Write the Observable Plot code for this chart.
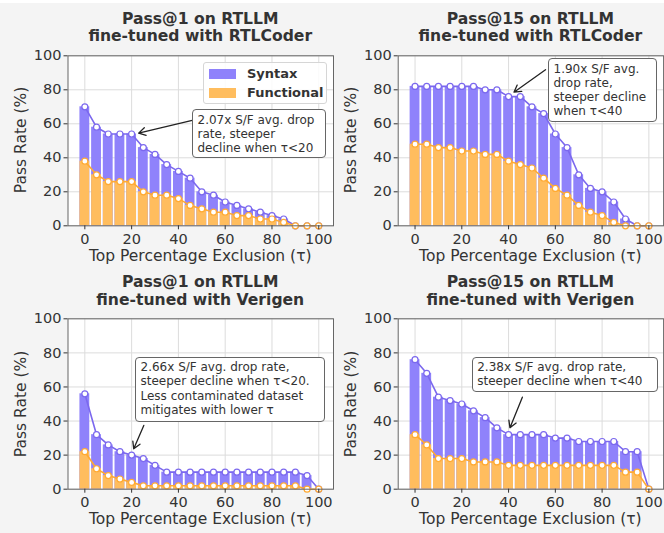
<!DOCTYPE html>
<html><head><meta charset="utf-8">
<script src="https://cdn.jsdelivr.net/npm/d3@7"></script>
<script src="https://cdn.jsdelivr.net/npm/@observablehq/plot@0.6"></script>
<style>
body{margin:0;background:#fff;font-family:"DejaVu Sans",sans-serif;}
#fig{position:relative;width:664px;height:533px;overflow:hidden;}
#bg{position:absolute;left:0;top:3px;width:664px;height:530px;background:#f4f4f4;}
.panel{position:absolute;}
.title{position:absolute;font-weight:bold;font-size:15.6px;text-align:center;color:#333;line-height:17.5px;white-space:nowrap;}
.axlab{position:absolute;font-size:15.5px;line-height:18px;height:18px;text-align:center;color:#333;white-space:nowrap;}
.note{position:absolute;box-sizing:border-box;border:1.2px solid #666;border-radius:4px;background:#fff;font-size:12px;line-height:14.2px;padding:2.5px 0 0 4.5px;color:#333;white-space:nowrap;}
.legend{position:absolute;box-sizing:border-box;border:1px solid #d6d6d6;border-radius:3px;background:rgba(255,255,255,0.85);font-size:13px;font-weight:bold;color:#333;}
.legend .row{position:absolute;left:5px;height:12px;}
.legend .sw{position:absolute;left:0;top:1px;width:27px;height:10px;}
.legend .lab{position:absolute;left:38px;top:-2px;line-height:15px;}
</style>
</head><body>
<div id="fig"><div id="bg"></div></div>
<script>
// ---- data ----
const tau = [0,5,10,15,20,25,30,35,40,45,50,55,60,65,70,75,80,85,90,95,100];
const xTicks = [0,20,40,60,80,100];
const yTicks = [0,20,40,60,80,100];
const seriesNames = ["Syntax","Functional"];

const syntaxP1Rtl = [70,58,54,54,54,46,42,36,32,28,20,18,14,12,10,8,6,4,0,0,0];
const funcP1Rtl   = [38,30,26,26,26,20,18,18,16,12,10,8,8,6,6,4,4,2,0,0,0];
const syntaxP15Rtl = [82,82,82,82,82,82,80,80,76,76,70,66,54,46,30,22,20,14,4,0,0];
const funcP15Rtl   = [48,48,46,46,44,44,42,42,38,36,34,28,22,18,12,8,6,2,0,0,0];
const syntaxP1Ver = [56,32,26,22,20,18,14,10,10,10,10,10,10,10,10,10,10,10,10,8,0];
const funcP1Ver   = [22,12,8,6,4,2,2,2,2,2,2,2,2,2,2,2,2,2,2,0,0];
const syntaxP15Ver = [76,68,54,52,50,46,42,36,32,32,32,32,30,30,28,28,28,28,22,22,0];
const funcP15Ver   = [32,26,18,18,18,16,16,16,14,14,14,14,14,14,14,14,14,14,10,10,0];

const titles = [
  ["Pass@1 on RTLLM", "fine-tuned with RTLCoder"],
  ["Pass@15 on RTLLM", "fine-tuned with RTLCoder"],
  ["Pass@1 on RTLLM", "fine-tuned with Verigen"],
  ["Pass@15 on RTLLM", "fine-tuned with Verigen"]
];
const notes = [
  ["2.07x S/F avg. drop", "rate, steeper", "decline when τ<20"],
  ["1.90x S/F avg.", "drop rate,", "steeper decline", "when τ<40"],
  ["2.66x S/F avg. drop rate,", "steeper decline when τ<20.", "Less contaminated dataset", "mitigates with lower τ"],
  ["2.38x S/F avg. drop rate,", "steeper decline when τ<40"]
];
// arrow [tailX, tailY, headX, headY] in data units
const arrows = [
  [45.9, 62, 23, 54.5],
  [55.8, 91.8, 42.3, 78.6],
  [25.2, 37.4, 20.9, 23.7],
  [45.9, 54, 40.6, 36]
];
const xLabel = "Top Percentage Exclusion (τ)";
const yLabel = "Pass Rate (%)";

// ---- style/layout ----
const cSynBar = "#8f82fb", cSynLine = "#7b68ee";
const cFunBar = "#ffbd5e", cFunLine = "#ffaa33";
const layout = [
  {left:0,   top:0,   w:340, h:268, ml:67.5, mr:7,   mt:55.3, mb:42.7, note:{x:192,y:109,w:134,h:49}, titleTop:10.8},
  {left:330, top:0,   w:334, h:268, ml:67.7, mr:0.9, mt:55.3, mb:42.7, note:{x:548,y:58.3,w:109,h:63.4}, titleTop:10.8},
  {left:0,   top:268, w:340, h:265, ml:67.5, mr:7,   mt:50.3, mb:44.3, note:{x:135,y:356.7,w:190,h:65}, titleTop:274},
  {left:330, top:268, w:334, h:265, ml:67.7, mr:0.9, mt:50.3, mb:44.3, note:{x:471.7,y:356.7,w:186.6,h:35}, titleTop:274}
];
const panels = [
  [syntaxP1Rtl, funcP1Rtl],
  [syntaxP15Rtl, funcP15Rtl],
  [syntaxP1Ver, funcP1Ver],
  [syntaxP15Ver, funcP15Ver]
];

const fig = document.getElementById("fig");
function addDiv(cls, html, styles) {
  const d = document.createElement("div");
  d.className = cls;
  d.innerHTML = html;
  Object.assign(d.style, styles);
  fig.appendChild(d);
  return d;
}
panels.forEach(([syn, fun], i) => {
  const L = layout[i];
  const data = tau.map((t, k) => ({tau: t, syntax: syn[k], functional: fun[k]}));
  const [ax, ay, hx, hy] = arrows[i];
  const chart = Plot.plot({
    width: L.w, height: L.h,
    marginLeft: L.ml, marginRight: L.mr, marginTop: L.mt, marginBottom: L.mb,
    style: {background: "transparent", fontFamily: "DejaVu Sans, sans-serif", color: "#333", overflow: "visible"},
    x: {domain: [-7.2, 106.3]},
    y: {domain: [0, 100]},
    marks: [
      Plot.frame({fill: "#fff", stroke: "none"}),
      Plot.gridX(xTicks, {stroke: "#dcdcdc", strokeOpacity: 1}),
      Plot.gridY(yTicks, {stroke: "#dcdcdc", strokeOpacity: 1}),
      Plot.rect(data, {x1: d => d.tau - 2.1, x2: d => d.tau + 2.1, y1: 0, y2: "syntax", fill: cSynBar}),
      Plot.rect(data, {x1: d => d.tau - 2.1, x2: d => d.tau + 2.1, y1: 0, y2: "functional", fill: cFunBar}),
      Plot.line(data, {x: "tau", y: "syntax", stroke: cSynLine, strokeWidth: 1.6}),
      Plot.dot(data, {x: "tau", y: "syntax", r: 3, fill: "#fff", stroke: cSynLine, strokeWidth: 1.2}),
      Plot.line(data, {x: "tau", y: "functional", stroke: cFunLine, strokeWidth: 1.6}),
      Plot.dot(data, {x: "tau", y: "functional", r: 3, fill: "#fff", stroke: cFunLine, strokeWidth: 1.2}),
      Plot.arrow([0], {x1: () => ax, y1: () => ay, x2: () => hx, y2: () => hy, stroke: "#222", strokeWidth: 1.3, headLength: 9, insetStart: 0, insetEnd: 0}),
      Plot.frame({stroke: "#666", strokeWidth: 1}),
      Plot.axisX({ticks: xTicks, tickSize: 4, tickPadding: 3.5, fontSize: 14.5, label: null}),
      Plot.axisY({ticks: yTicks, tickSize: 4, tickPadding: 2.5, fontSize: 14.5, label: null})
    ]
  });
  chart.classList.add("panel");
  chart.style.left = L.left + "px";
  chart.style.top = L.top + "px";
  fig.appendChild(chart);

  const plotLeft = L.left + L.ml, plotW = L.w - L.ml - L.mr;
  const plotBottom = L.top + L.h - L.mb, plotTop = L.top + L.mt;
  addDiv("title", titles[i].join("<br>"), {left: plotLeft + "px", width: plotW + "px", top: L.titleTop + "px"});
  addDiv("note", notes[i].join("<br>"), {left: L.note.x + "px", top: L.note.y + "px", width: L.note.w + "px", height: L.note.h + "px"});
  // x label
  addDiv("axlab", xLabel, {left: plotLeft + "px", width: plotW + "px", top: (plotBottom + 21.3) + "px"});
  // y label (rotated)
  const cy = (plotTop + plotBottom) / 2, cx = L.left + 21;
  addDiv("axlab", yLabel, {left: (cx - 100) + "px", width: "200px", top: (cy - 9) + "px", transform: "rotate(-90deg)", transformOrigin: "50% 50%"});
});

// legend (first panel)
const lg = addDiv("legend", "", {left: "203px", top: "62px", width: "124px", height: "42px"});
[[seriesNames[0], cSynBar, 5], [seriesNames[1], cFunBar, 24]].forEach(([name, col, top]) => {
  const r = document.createElement("div");
  r.className = "row"; r.style.top = top + "px";
  r.innerHTML = `<div class="sw" style="background:${col}"></div><div class="lab">${name}</div>`;
  lg.appendChild(r);
});
</script>
</body></html>
